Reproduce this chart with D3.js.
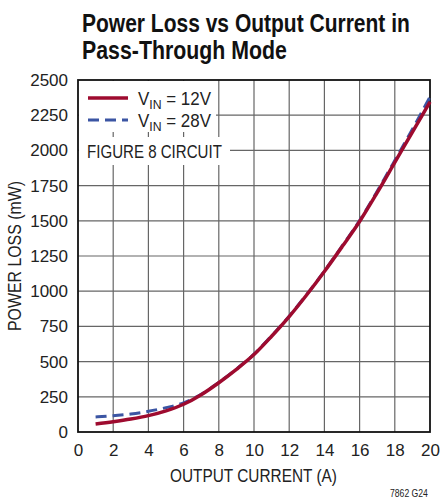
<!DOCTYPE html>
<html>
<head>
<meta charset="utf-8">
<script src="https://cdn.jsdelivr.net/npm/d3@7"></script>
<style>
  body { margin: 0; background: #fff; }
  svg { display: block; }
  text { font-family: "Liberation Sans", Arial, sans-serif; }
</style>
</head>
<body>
<svg id="chart" width="440" height="500"></svg>
<script>
// current in A
const current = [1, 2, 3, 4, 5, 6, 7, 8, 9, 10, 11, 12, 13, 14, 15, 16, 17, 18, 19, 20];
// power loss in mW
const loss12V = [57, 73, 92, 116, 150, 197, 265, 350, 445, 550, 680, 820, 975, 1140, 1315, 1495, 1700, 1915, 2130, 2345];
const loss28V = [107, 116, 128, 147, 173, 207, 268, 352, 447, 553, 683, 823, 978, 1143, 1320, 1502, 1710, 1928, 2150, 2380];

const xTicks = [0, 2, 4, 6, 8, 10, 12, 14, 16, 18, 20];
const yTicks = [0, 250, 500, 750, 1000, 1250, 1500, 1750, 2000, 2250, 2500];

const colors = { v12: "#9e0b2f", v28: "#3b55a3" };

const svg = d3.select("#chart");
const m = { left: 78, right: 430, top: 80, bottom: 432 };

const x = d3.scaleLinear().domain([0, 20]).range([m.left, m.right]);
const y = d3.scaleLinear().domain([0, 2500]).range([m.bottom, m.top]);

// condensed text: squeeze horizontally to a target width
function squeeze(sel, x0, y0, w) {
    const nat = sel.node().getComputedTextLength();
    sel.attr("x", 0).attr("y", 0)
        .attr("transform", `translate(${x0},${y0}) scale(${w / nat},1)`);
    return sel;
}

// title
[["Power Loss vs Output Current in", 32, 328], ["Pass-Through Mode", 59, 205]].forEach(([s, ty, w]) => {
    const t = svg.append("text").style("font-size", "26px").style("font-weight", "bold")
        .attr("fill", "#111").text(s);
    squeeze(t, 82, ty, w);
});

// grid
const grid = svg.append("g");
grid.selectAll("line.v").data(xTicks.slice(1, -1)).join("line")
    .attr("x1", d => x(d)).attr("x2", d => x(d))
    .attr("y1", m.top).attr("y2", m.bottom)
    .attr("stroke", "#666").attr("stroke-width", 1.2);
grid.selectAll("line.h").data(yTicks.slice(1, -1)).join("line")
    .attr("x1", m.left).attr("x2", m.right)
    .attr("y1", d => y(d)).attr("y2", d => y(d))
    .attr("stroke", "#666").attr("stroke-width", 1.2);

// legend background covering grid
svg.append("rect").attr("x", m.left + 1).attr("y", m.top + 1).attr("width", 137).attr("height", 51).attr("fill", "#fff");
svg.append("rect").attr("x", m.left + 1).attr("y", 137).attr("width", 151).attr("height", 28).attr("fill", "#fff");

// axes
const xAxis = d3.axisBottom(x).tickValues(xTicks).tickFormat(d3.format("d")).tickSize(0).tickPadding(12);
const yAxis = d3.axisLeft(y).tickValues(yTicks).tickFormat(d3.format("d")).tickSize(0).tickPadding(10);

const gx = svg.append("g").attr("transform", `translate(0,${m.bottom})`).call(xAxis);
const gy = svg.append("g").attr("transform", `translate(${m.left},0)`).call(yAxis);
[gx, gy].forEach(a => {
    a.select(".domain").remove();
    a.selectAll("text").style("font-family", "Liberation Sans, Arial, sans-serif")
        .style("font-size", "17px").attr("fill", "#222");
});

// frame
svg.append("rect").attr("x", m.left).attr("y", m.top)
    .attr("width", m.right - m.left).attr("height", m.bottom - m.top)
    .attr("fill", "none").attr("stroke", "#111").attr("stroke-width", 1.8);

// curves
const line = d3.line().curve(d3.curveMonotoneX);
svg.append("path")
    .attr("d", line(current.map((c, i) => [x(c), y(loss28V[i])])))
    .attr("fill", "none").attr("stroke", colors.v28).attr("stroke-width", 3)
    .attr("stroke-dasharray", "11,6");
svg.append("path")
    .attr("d", line(current.map((c, i) => [x(c), y(loss12V[i])])))
    .attr("fill", "none").attr("stroke", colors.v12).attr("stroke-width", 3.5);

// legend
const leg = svg.append("g").style("font-size", "18px").attr("fill", "#222");
leg.append("line").attr("x1", 88).attr("x2", 128).attr("y1", 98).attr("y2", 98)
    .attr("stroke", colors.v12).attr("stroke-width", 3.5);
leg.append("line").attr("x1", 88).attr("x2", 128).attr("y1", 120).attr("y2", 120)
    .attr("stroke", colors.v28).attr("stroke-width", 3).attr("stroke-dasharray", "11,6");
[["12V", 105], ["28V", 127]].forEach(([v, ty]) => {
    const t = leg.append("text");
    t.append("tspan").text("V");
    t.append("tspan").attr("dy", 4).style("font-size", "13px").text("IN");
    t.append("tspan").attr("dy", -4).text(" = " + v);
    squeeze(t, 138, ty, 73);
});
squeeze(leg.append("text").text("FIGURE 8 CIRCUIT"), 87, 158, 135);

// axis labels
const xl = svg.append("text").style("font-size", "18px").attr("fill", "#222").text("OUTPUT CURRENT (A)");
squeeze(xl, 170, 482, 167);
const yl = svg.append("text").attr("text-anchor", "middle")
    .style("font-size", "18px").attr("fill", "#222").text("POWER LOSS (mW)");
yl.attr("transform", `translate(21,${(m.top + m.bottom) / 2}) rotate(-90) scale(${150 / yl.node().getComputedTextLength()},1)`);

const foot = svg.append("text").style("font-size", "10px").attr("fill", "#222").text("7862 G24");
squeeze(foot, 390, 497, 38);
</script>
</body>
</html>
